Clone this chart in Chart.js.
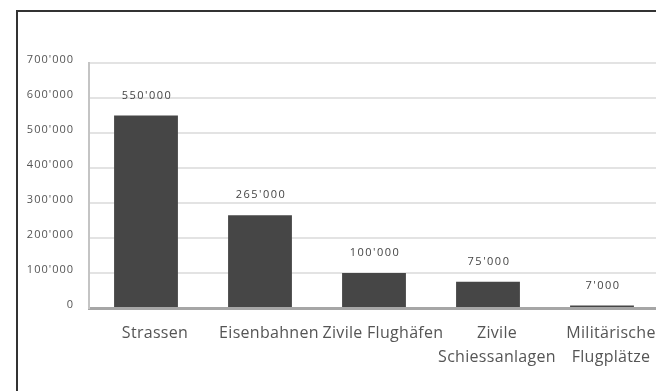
<!DOCTYPE html>
<html>
<head>
<meta charset="utf-8">
<script src="https://cdn.jsdelivr.net/npm/chart.js@4"></script>
<style>
    html, body { margin: 0; padding: 0; background: #fff; overflow: hidden; width: 656px; height: 391px; }
    .frame {
        position: absolute;
        left: 16px;
        top: 10px;
        width: 700px;
        height: 420px;
        border-left: 2px solid #333;
        border-top: 2px solid #333;
    }
    canvas { display: block; }
</style>
</head>
<body>
<div class="frame">
    <canvas id="chart" width="645" height="380"></canvas>
</div>
<script>
const categories = [
    'Strassen',
    'Eisenbahnen',
    'Zivile Flughäfen',
    ['Zivile', 'Schiessanlagen'],
    ['Militärische', 'Flugplätze']
];
const values = [550000, 265000, 100000, 75000, 7000];
const yTicks = [0, 100000, 200000, 300000, 400000, 500000, 600000, 700000];

const fontFamily = '"Open Sans", "Noto Sans", sans-serif';

// Swiss style thousands separator: 550'000
function formatNumber (n) {
    return String(n).replace(/\B(?=(\d{3})+(?!\d))/g, "'");
}

// spaced-out digits on the value axis
const letterSpacing = {
    id: 'letterSpacing',
    beforeDraw (chart) {
        chart.ctx.letterSpacing = '1px';
    }
};

// numbers above the bars; category labels (z: 1) are drawn after this
const barValueLabels = {
    id: 'barValueLabels',
    afterDatasetsDraw (chart) {
        const ctx = chart.ctx;
        const meta = chart.getDatasetMeta(0);
        ctx.save();
        ctx.letterSpacing = '1.5px';
        ctx.font = '11px ' + fontFamily;
        ctx.fillStyle = '#444';
        ctx.textAlign = 'center';
        ctx.textBaseline = 'middle';
        meta.data.forEach((bar, i) => {
            ctx.fillText(formatNumber(values[i]), bar.x + 1, bar.y - 20);
        });
        ctx.restore();
        ctx.letterSpacing = '0.3px';
    }
};

const ctx = document.getElementById('chart').getContext('2d');

new Chart(ctx, {
    type: 'bar',
    data: {
        labels: categories,
        datasets: [{
            data: values,
            backgroundColor: '#464646',
            categoryPercentage: 1,
            barPercentage: 0.56
        }]
    },
    options: {
        responsive: false,
        animation: false,
        layout: {
            padding: { top: 51, right: 4, bottom: 0, left: 0 }
        },
        plugins: {
            legend: { display: false },
            tooltip: { enabled: false }
        },
        scales: {
            x: {
                grid: { display: false, drawTicks: false },
                border: { display: true, color: '#a6a6a6', width: 3 },
                ticks: {
                    z: 1,
                    color: '#555',
                    padding: 13,
                    labelOffset: 9,
                    maxRotation: 0,
                    autoSkip: false,
                    font: { family: fontFamily, size: 16, lineHeight: 1.5 }
                },
                afterFit (scale) {
                    scale.height = 84;
                }
            },
            y: {
                min: 0,
                max: 700000,
                afterBuildTicks (scale) {
                    scale.ticks = yTicks.map(v => ({ value: v }));
                },
                grid: { color: '#e3e3e3', lineWidth: 2, drawTicks: false },
                border: { display: true, color: '#c4c4c4', width: 2 },
                ticks: {
                    color: '#555',
                    padding: 15,
                    labelOffset: -3,
                    font: { family: fontFamily, size: 11 },
                    callback: value => formatNumber(value)
                },
                afterFit (scale) {
                    scale.width = 71;
                }
            }
        }
    },
    plugins: [letterSpacing, barValueLabels]
});
</script>
</body>
</html>
